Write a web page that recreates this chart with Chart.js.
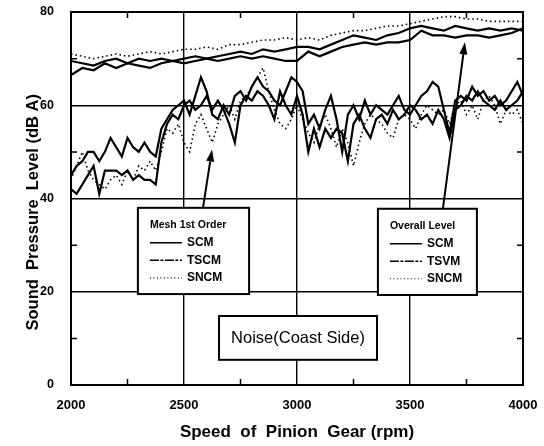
<!DOCTYPE html>
<html><head><meta charset="utf-8">
<script src="https://cdn.jsdelivr.net/npm/chart.js@4/dist/chart.umd.min.js"></script>
<style>html,body{margin:0;padding:0;background:#fff;}</style>
</head><body>
<canvas id="c" width="544" height="446"></canvas>
<script>
// ---- data ----
const meshRpm = [2000,2025,2050,2075,2100,2125,2150,2175,2200,2225,
 2250,2275,2300,2325,2350,2375,2400,2425,2450,2475,
 2500,2525,2550,2575,2600,2625,2650,2675,2700,2725,
 2750,2775,2800,2825,2850,2875,2900,2925,2950,2975,
 3000,3025,3050,3075,3100,3125,3150,3175,3200,3225,
 3250,3275,3300,3325,3350,3375,3400,3425,3450,3475,
 3500,3525,3550,3575,3600,3625,3650,3675,3700,3725,
 3750,3775,3800,3825,3850,3875,3900,3925,3950,3975,4000];
const meshSCM = [45,47,48,50,50,48,50,53,51,49,
 53,51,50,52,50,49,55,57,59,60,
 61,58,62,66,63,58,57,60,58,62,
 63,61,64,66,64,63,61,60,63,66,
 65,63,56,58,55,59,62,57,50,58,
 60,57,61,58,60,59,58,60,62,59,
 58,60,62,63,65,64,59,54,61,62,
 61,64,62,63,61,62,60,61,63,65,62];
const meshTSCM = [42,41,43,45,47,41,46,46,46,45,
 46,44,45,44,44,43,52,56,58,57,
 60,61,59,60,62,59,61,59,56,52,
 60,62,61,63,62,60,57,63,60,58,
 62,58,50,55,51,55,53,55,54,48,
 56,58,55,53,57,58,56,59,57,58,
 60,59,57,58,56,59,57,53,59,60,
 62,61,63,61,60,59,61,59,60,61,63];
const meshSNCM = [44,47,50,46,44,43,42,44,45,43,
 46,44,47,46,48,46,50,55,54,56,
 52,50,56,58,55,52,56,58,60,57,
 61,62,64,66,68,63,59,56,55,57,
 60,57,54,52,56,58,55,51,55,52,
 47,52,56,58,57,56,54,53,57,58,
 57,55,58,60,59,58,59,56,60,61,
 58,60,57,61,62,60,56,59,58,59,56];
const overallRpm = [2000,2050,2100,2150,2200,2250,2300,2350,2400,2450,
 2500,2550,2600,2650,2700,2750,2800,2850,2900,2950,
 3000,3050,3100,3150,3200,3250,3300,3350,3400,3450,
 3500,3550,3600,3650,3700,3750,3800,3850,3900,3950,4000];
const overallSCM = [69.5,69,68.5,69.5,70,69,70,69.5,70,69.5,
 70,70.5,70,70.5,71,71.5,71,72,71.5,72,
 72.5,72.5,72,73,74,75,74.5,74,75,75.5,
 76.5,77,76.5,76,77,76.5,76,76.5,76,76.5,76];
const overallTSVM = [66.5,68,67.5,69,68,69,68.5,68,69,69.5,
 69,69.5,70,69.5,70,70.5,70,70.5,70,69.5,
 69.5,71.5,70.5,71.5,72.5,73,73.5,73,73.5,73.5,
 74,76,75,75,74.5,75,75,74.5,75,75.5,76.5];
const overallSNCM = [71,70.5,70,70.5,71,70.5,71,71.5,71,71.5,
 72,72,72.5,72,73,73,73.5,74,74,74.5,
 74,74.5,74,75,75.5,76,76,76.5,77,77,
 77.5,78,78.5,79,79,78.5,78.5,78,78,78,78];
const xTicks = [2000,2500,3000,3500,4000];
const yTicks = [0,20,40,60,80];

const pts = (xs, ys) => xs.map((v,i)=>({x:v,y:ys[i]}));
const solid = (d,w)=>({data:d,borderColor:'#000',borderWidth:w,pointRadius:0,tension:0,fill:false});
const dotted = d=>({data:d,borderColor:'#000',borderWidth:1.6,borderDash:[1.5,3],pointRadius:0,tension:0,fill:false});

const FONT = "'Liberation Sans', Arial, sans-serif";

const annot = {
  id:'annot',
  afterDatasetsDraw(chart){
    const {ctx, chartArea:a, scales:{x,y}} = chart;
    const X = v=>x.getPixelForValue(v), Y = v=>y.getPixelForValue(v);
    ctx.save();
    ctx.strokeStyle='#000'; ctx.fillStyle='#000'; ctx.setLineDash([]);
    ctx.lineWidth=1.5;
    x.ticks.forEach(t=>{ if(t.value%500!==0){const p=X(t.value);
      ctx.beginPath();ctx.moveTo(p,a.bottom);ctx.lineTo(p,a.bottom-6);ctx.moveTo(p,a.top);ctx.lineTo(p,a.top+6);ctx.stroke();}});
    y.ticks.forEach(t=>{ if(t.value%20!==0){const p=Y(t.value);
      ctx.beginPath();ctx.moveTo(a.left,p);ctx.lineTo(a.left+6,p);ctx.moveTo(a.right,p);ctx.lineTo(a.right-6,p);ctx.stroke();}});
    ctx.lineWidth=2;
    ctx.strokeRect(a.left,a.top,a.right-a.left,a.bottom-a.top);

    const box = (x0,x1,y0,y1)=>{
      const l=X(x0), r=X(x1), t=Y(y0), b=Y(y1);
      ctx.fillStyle='#fff'; ctx.fillRect(l,t,r-l,b-t);
      ctx.lineWidth=2; ctx.strokeStyle='#000'; ctx.setLineDash([]);
      ctx.strokeRect(l,t,r-l,b-t);
      ctx.fillStyle='#000';
      return {l,r,t,b};
    };
    const arrow = (x0,y0,x1,y1)=>{
      const sx=X(x0), sy=Y(y0), ex=X(x1), ey=Y(y1);
      const ang=Math.atan2(ey-sy,ex-sx), L=12, W=4;
      const bx=ex-L*Math.cos(ang), by=ey-L*Math.sin(ang);
      ctx.lineWidth=2; ctx.setLineDash([]);
      ctx.beginPath(); ctx.moveTo(sx,sy); ctx.lineTo(bx,by); ctx.stroke();
      ctx.beginPath(); ctx.moveTo(ex,ey);
      ctx.lineTo(bx+W*Math.sin(ang), by-W*Math.cos(ang));
      ctx.lineTo(bx-W*Math.sin(ang), by+W*Math.cos(ang));
      ctx.closePath(); ctx.fill();
    };
    const legend = (bx,title,names,styles)=>{
      ctx.textBaseline='middle'; ctx.textAlign='left';
      ctx.font="bold 10.5px "+FONT;
      ctx.fillText(title,bx.l+12,bx.t+17);
      names.forEach((n,i)=>{
        const yy=bx.t+35+i*17.5;
        ctx.beginPath();
        ctx.lineWidth=styles[i]==='dot'?1.2:1.5;
        ctx.setLineDash(styles[i]==='dot'?[1,2.5]:(styles[i]==='dash'?[9,1.5,3,1.5]:[]));
        ctx.moveTo(bx.l+12,yy); ctx.lineTo(bx.l+44,yy); ctx.stroke();
        ctx.setLineDash([]);
        ctx.font="bold 12px "+FONT;
        ctx.fillText(n,bx.l+49,yy);
      });
    };
    arrow(2584,38,2624,50.5);
    arrow(3646,38,3743,73.5);
    const m = box(2296,2788,38,19.5);
    legend(m,'Mesh 1st Order',['SCM','TSCM','SNCM'],['solid','dash','dot']);
    const o = box(3358,3796,37.8,19.3);
    legend(o,'Overall Level',['SCM','TSVM','SNCM'],['solid','dash','dot']);
    const n = box(2655,3354,14.8,5.4);
    ctx.font="16.5px "+FONT; ctx.textAlign='center'; ctx.textBaseline='middle';
    ctx.fillText('Noise(Coast Side)',(n.l+n.r)/2,(n.t+n.b)/2+1);
    ctx.restore();
  }
};

new Chart(document.getElementById('c'),{
  type:'line',
  data:{datasets:[
    solid(pts(meshRpm,meshSCM),2.2),
    solid(pts(meshRpm,meshTSCM),2.2),
    dotted(pts(meshRpm,meshSNCM)),
    solid(pts(overallRpm,overallSCM),2.2),
    solid(pts(overallRpm,overallTSVM),2.2),
    dotted(pts(overallRpm,overallSNCM))
  ]},
  options:{
    responsive:false, animation:false, devicePixelRatio:1,
    layout:{padding:{top:12,right:21,left:0,bottom:0}},
    plugins:{legend:{display:false},tooltip:{enabled:false}},
    scales:{
      x:{type:'linear',min:2000,max:4000,
        ticks:{stepSize:250,autoSkip:false,padding:13,color:'#000',font:{family:FONT,size:13,weight:'bold'},
          callback:v=>xTicks.includes(v)?String(v):''},
        grid:{drawTicks:false,lineWidth:1.4,color:c=>(c.tick&&c.tick.value%500===0)?'#000':'rgba(0,0,0,0)'},
        border:{display:true,color:'#000',width:2},
        title:{display:true,text:'Speed  of  Pinion  Gear (rpm)',color:'#000',font:{family:FONT,size:17,weight:'bold'},padding:{top:0,bottom:3}},
        afterFit:s=>{s.height=61; s.paddingRight=0; s.paddingLeft=0;}
      },
      y:{min:0,max:80,
        ticks:{stepSize:10,autoSkip:false,padding:17,color:'#000',font:{family:FONT,size:12.5,weight:'bold'},
          callback:v=>yTicks.includes(v)?String(v):''},
        grid:{drawTicks:false,lineWidth:1.4,color:c=>(c.tick&&c.tick.value%20===0)?'#000':'rgba(0,0,0,0)'},
        border:{display:true,color:'#000',width:2},
        title:{display:true,text:'Sound  Pressure  Level (dB A)\u00a0\u00a0\u00a0\u00a0\u00a0\u00a0',color:'#000',font:{family:FONT,size:16.5,weight:'bold'},padding:{top:24,bottom:0}},
        afterFit:s=>{s.width=71; s.paddingTop=0; s.paddingBottom=0;}
      }
    }
  },
  plugins:[annot]
});
</script>
</body></html>
